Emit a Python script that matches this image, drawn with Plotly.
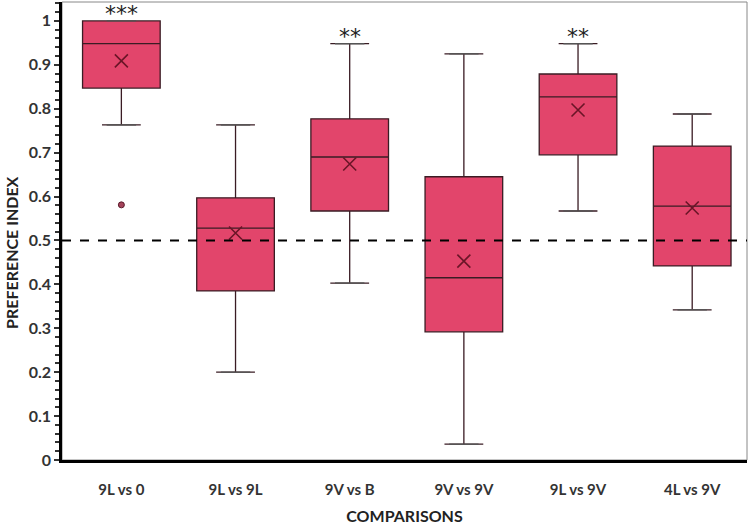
import plotly.graph_objects as go

# data
comparisons = ["9L vs 0", "9L vs 9L", "9V vs B", "9V vs 9V", "9L vs 9V", "4L vs 9V"]
lower_whisker = [0.763, 0.200, 0.403, 0.036, 0.567, 0.342]
q1_vals = [0.847, 0.385, 0.567, 0.292, 0.695, 0.442]
median_vals = [0.948, 0.528, 0.690, 0.415, 0.827, 0.578]
q3_vals = [1.000, 0.597, 0.777, 0.645, 0.879, 0.715]
upper_whisker = [1.000, 0.763, 0.948, 0.925, 0.948, 0.788]
mean_vals = [0.909, 0.517, 0.674, 0.453, 0.797, 0.574]
outlier_x = ["9L vs 0"]
outlier_y = [0.581]
stars = ["***", "", "**", "", "**", ""]
chance_level = 0.5

BOX_FILL = "#E2456B"
BOX_LINE = "#3a1c24"
WHISK = "#555555"
FONT = "Lato"

fig = go.Figure()

# boxes from precomputed stats
fig.add_trace(go.Box(
    x=comparisons,
    q1=q1_vals, median=median_vals, q3=q3_vals,
    lowerfence=lower_whisker, upperfence=upper_whisker,
    fillcolor=BOX_FILL,
    line=dict(color=BOX_LINE, width=1.3),
    width=0.68,
    boxpoints=False,
    hoverinfo="y",
    showlegend=False,
))

# whisker caps (plotly draws none)
fig.add_trace(go.Scatter(
    x=comparisons + comparisons,
    y=lower_whisker + upper_whisker,
    mode="markers",
    marker=dict(symbol="line-ew", size=21, line=dict(color=WHISK, width=1.4)),
    hoverinfo="skip", showlegend=False,
))

# means as crosses
fig.add_trace(go.Scatter(
    x=comparisons, y=mean_vals,
    mode="markers",
    marker=dict(symbol="x-thin", size=13, line=dict(color="#6a1527", width=1.6)),
    hoverinfo="y", showlegend=False,
))

# outlier
fig.add_trace(go.Scatter(
    x=outlier_x, y=outlier_y,
    mode="markers",
    marker=dict(symbol="circle", size=6, color="#a4435a", line=dict(color="#5a1a2a", width=1)),
    hoverinfo="y", showlegend=False,
))

# significance stars
for c, s, top in zip(comparisons, stars, upper_whisker):
    if s:
        fig.add_annotation(x=c, y=top, text=s, showarrow=False, yanchor="bottom",
                           yshift=-7, font=dict(family="DejaVu Sans", size=22, color="#222"))

# y title sits a bit below the middle in the reference
fig.add_annotation(x=0, y=0.452, xref="paper", yref="paper", xanchor="center",
                   xshift=-50, text="PREFERENCE INDEX", textangle=-90, showarrow=False,
                   font=dict(family=FONT, size=16, color="#222", weight="bold"))

# chance line
fig.add_hline(y=chance_level, line=dict(color="black", width=2, dash="dash"))

# thin frame on top/right
fig.add_shape(type="rect", xref="paper", yref="paper", x0=0, y0=0, x1=1, y1=1,
              line=dict(color="#888", width=1), layer="below")

fig.update_layout(
    width=752, height=526,
    margin=dict(l=62, r=5, t=2, b=66),
    plot_bgcolor="white", paper_bgcolor="white",
    font=dict(family=FONT, size=13, color="#333"),
    showlegend=False,
    xaxis=dict(
        type="category", range=[-0.52, 5.48],
        showgrid=False, zeroline=False,
        showline=True, linecolor="black", linewidth=3,
        ticks="", ticklabelstandoff=14,
        tickfont=dict(family=FONT, size=15, color="#333", weight="bold"),
        title=dict(text="COMPARISONS", standoff=14,
                   font=dict(family=FONT, size=16, color="#222", weight="bold")),
    ),
    yaxis=dict(
        range=[0, 1.043],
        tickmode="linear", tick0=0, dtick=0.1,
        tickformat="~g",
        showgrid=False, zeroline=False,
        showline=True, linecolor="black", linewidth=2.5,
        ticks="outside", ticklen=5, tickwidth=2, tickcolor="#333",
        minor=dict(dtick=0.02, ticks="outside", ticklen=4, tickwidth=1.5, tickcolor="#333"),
        tickfont=dict(family=FONT, size=16, color="#333", weight="bold"),
    ),
)

fig.write_html("out.html", config={"displayModeBar": False},
               post_script="document.body.style.margin='0px';")
